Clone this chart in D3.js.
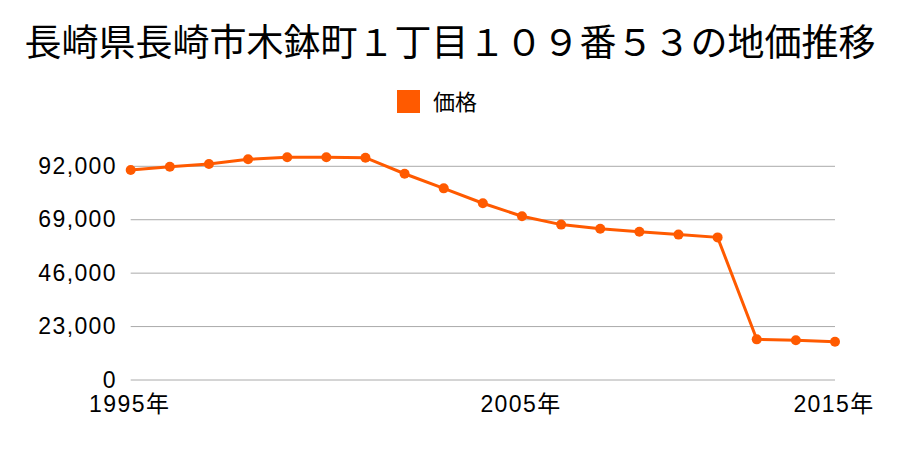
<!DOCTYPE html>
<html>
<head>
<meta charset="utf-8">
<script src="https://cdn.jsdelivr.net/npm/d3@7"></script>
<style>
  body { margin: 0; background: #fff; }
  svg text { font-family: "Noto Sans CJK JP", "Noto Sans", sans-serif; }
  svg text.num { font-family: "Liberation Sans", "Noto Sans CJK JP", sans-serif; letter-spacing: 1.4px; }
</style>
</head>
<body>
<svg id="chart" width="900" height="450"></svg>
<script>
const title = "長崎県長崎市木鉢町１丁目１０９番５３の地価推移";
const seriesName = "価格";
const values = [90400, 91800, 93000, 95000, 95900, 95900, 95700, 88800, 82500, 76100,
                70500, 66900, 65100, 63800, 62600, 61400, 17500, 17100, 16500];
const yTicks = [0, 23000, 46000, 69000, 92000];
const xTickIndex = [0, 10, 18];
const xTickLabels = ["1995年", "2005年", "2015年"];

(function () {
const color = "#ff5a00";
const svg = d3.select("#chart");
const mLeft = 130.7, mRight = 835, mTop = 166.3, mBottom = 380;

const x = d3.scalePoint().domain(d3.range(values.length)).range([mLeft, mRight]);
const y = d3.scaleLinear().domain([0, 92000]).range([mBottom, mTop]);

svg.append("text").attr("x", 450).attr("y", 56).attr("text-anchor", "middle")
  .attr("font-size", 37).attr("fill", "#000").text(title);

// legend
svg.append("rect").attr("x", 397).attr("y", 90).attr("width", 23).attr("height", 23).attr("fill", color);
svg.append("text").attr("x", 433).attr("y", 109.5).attr("font-size", 22).attr("fill", "#000").text(seriesName);

// grid
svg.append("g").selectAll("line").data(yTicks).join("line")
  .attr("x1", mLeft).attr("x2", mRight)
  .attr("y1", d => y(d)).attr("y2", d => y(d))
  .attr("stroke", "#aaaaaa").attr("stroke-width", 1);

// y labels
svg.append("g").selectAll("text").data(yTicks).join("text")
  .attr("class", "num")
  .attr("x", 117).attr("y", d => y(d) + 7.5).attr("text-anchor", "end")
  .attr("font-size", 23).attr("fill", "#000").text(d => d3.format(",")(d));

// x labels
svg.append("g").selectAll("text").data(xTickIndex).join("text")
  .attr("class", "num")
  .attr("x", d => x(d) - 1).attr("y", 412).attr("text-anchor", "middle")
  .attr("font-size", 23).attr("fill", "#000").text((d, i) => xTickLabels[i]);

// line
const line = d3.line().x((d, i) => x(i)).y(d => y(d));
svg.append("path").datum(values).attr("d", line)
  .attr("fill", "none").attr("stroke", color).attr("stroke-width", 3);

svg.append("g").selectAll("circle").data(values).join("circle")
  .attr("cx", (d, i) => x(i)).attr("cy", d => y(d)).attr("r", 5).attr("fill", color);
})();
</script>
</body>
</html>
